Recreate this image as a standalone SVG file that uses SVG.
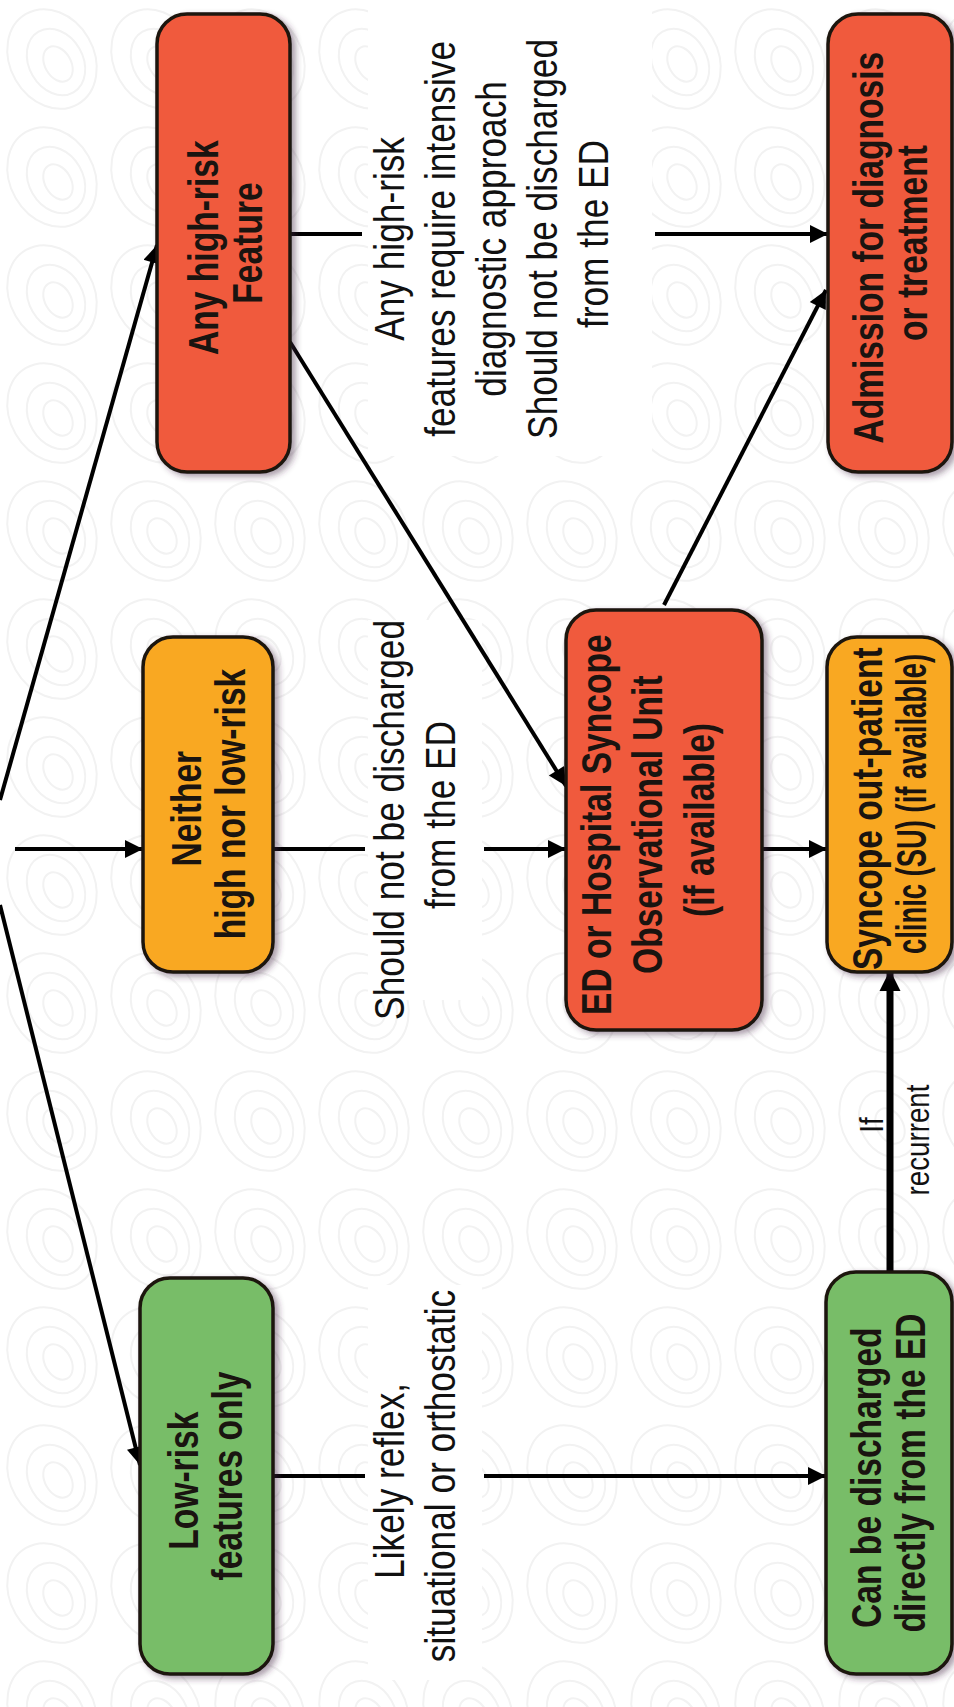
<svg xmlns="http://www.w3.org/2000/svg" width="954" height="1707" viewBox="0 0 954 1707">
<defs>
<pattern id="bg" width="104" height="118" patternUnits="userSpaceOnUse">
<g fill="none" stroke="#f2f2f2" stroke-width="2">
<ellipse cx="52" cy="59" rx="42" ry="52" transform="rotate(-30 52 59)"/>
<ellipse cx="56" cy="62" rx="27" ry="35" transform="rotate(-30 56 62)"/>
<ellipse cx="58" cy="64" rx="13" ry="19" transform="rotate(-30 58 64)"/>
</g>
</pattern>
<filter id="sh" x="-10%" y="-10%" width="130%" height="130%">
<feDropShadow dx="4" dy="3" stdDeviation="3" flood-color="#402040" flood-opacity="0.45"/>
</filter>
<marker id="ah" viewBox="0 0 10 10" refX="10" refY="5" markerWidth="5" markerHeight="4.5" markerUnits="strokeWidth" orient="auto">
<path d="M0,0 L10,5 L0,10 z" fill="#000"/>
</marker>
<marker id="ahT" viewBox="0 0 10 10" refX="10" refY="5" markerWidth="3" markerHeight="5" markerUnits="strokeWidth" orient="auto">
<path d="M0,0 L10,5 L0,10 z" fill="#000"/>
</marker>
</defs>
<style>
.node rect{stroke:#1c1410;stroke-width:3.5;filter:url(#sh)}
.red{fill:#f05a3c}
.orange{fill:#f9a823}
.green{fill:#78bd67}
.nt{font-family:'Liberation Sans',Arial,sans-serif;font-weight:bold;font-size:42px;fill:#1a1410;text-anchor:middle}
.lt{font-family:'Liberation Sans',Arial,sans-serif;font-size:42px;fill:#111;text-anchor:middle}
.st{font-family:'Liberation Sans',Arial,sans-serif;font-size:33px;fill:#111;text-anchor:middle}
.c line{stroke:#000;stroke-width:4;fill:none}
.wb{fill:#fff}
</style>
<rect width="954" height="1707" fill="#fff"/>
<rect width="954" height="1707" fill="url(#bg)"/>
<rect class="wb" x="368" y="4" width="284" height="452"/>
<rect class="wb" x="368" y="620" width="114" height="380"/>
<rect class="wb" x="368" y="1285" width="114" height="395"/>

<g id="connectors" class="c">
<line x1="0" y1="800" x2="157" y2="245" marker-end="url(#ah)"/>
<line x1="15" y1="849" x2="143" y2="849" marker-end="url(#ah)"/>
<line x1="0" y1="905" x2="140" y2="1465" marker-end="url(#ah)"/>
<line x1="290" y1="234" x2="362" y2="234"/>
<line x1="655" y1="234" x2="828" y2="234" marker-end="url(#ah)"/>
<line x1="290" y1="342" x2="566" y2="786" marker-end="url(#ah)"/>
<line x1="273" y1="849" x2="365" y2="849"/>
<line x1="484" y1="849" x2="566" y2="849" marker-end="url(#ah)"/>
<line x1="762" y1="849" x2="827" y2="849" marker-end="url(#ah)"/>
<line x1="664" y1="605" x2="826" y2="290" marker-end="url(#ah)"/>
<line x1="273" y1="1476" x2="365" y2="1476"/>
<line x1="484" y1="1476" x2="826" y2="1476" marker-end="url(#ah)"/>
<line x1="890" y1="1272" x2="890" y2="970" style="stroke-width:7" marker-end="url(#ahT)"/>
</g>

<g id="label-high">
<text class="lt" transform="translate(492,234) rotate(-90) scale(0.84,1)">
<tspan x="0" y="-88">Any high-risk</tspan>
<tspan x="0" y="-37">features require intensive</tspan>
<tspan x="0" y="14">diagnostic approach</tspan>
<tspan x="0" y="65">Should not be discharged</tspan>
<tspan x="0" y="116">from the ED</tspan>
</text>
</g>
<g id="label-neither">
<text class="lt" transform="translate(416,815) rotate(-90) scale(0.84,1)">
<tspan x="0" y="-12">Should not be discharged</tspan>
<tspan x="0" y="39">from the ED</tspan>
</text>
</g>
<g id="label-low">
<text class="lt" transform="translate(416,1476) rotate(-90) scale(0.84,1)">
<tspan x="0" y="-12">Likely reflex,</tspan>
<tspan x="0" y="39">situational or orthostatic</tspan>
</text>
</g>
<g id="label-recurrent">
<text class="st" transform="translate(872,1125) rotate(-90) scale(0.84,1)"><tspan x="0" y="11">If</tspan></text>
<text class="st" transform="translate(918,1140) rotate(-90) scale(0.84,1)"><tspan x="0" y="11">recurrent</tspan></text>
</g>

<g id="node-high" class="node">
<rect class="red" x="157" y="14" width="133" height="458" rx="30"/>
<text class="nt" transform="translate(226,243) rotate(-90) scale(0.8,1)">
<tspan x="0" y="-8">Any high-risk</tspan>
<tspan x="0" y="36">Feature</tspan>
</text>
</g>
<g id="node-admission" class="node">
<rect class="red" x="828" y="14" width="124" height="458" rx="30"/>
<text class="nt" transform="translate(891,243) rotate(-90) scale(0.8,1)">
<tspan x="0" y="-8">Admission for diagnosis</tspan>
<tspan x="0" y="36">or treatment</tspan>
</text>
</g>
<g id="node-neither" class="node">
<rect class="orange" x="143" y="637" width="130" height="335" rx="30"/>
<text class="nt" transform="translate(209,804) rotate(-90) scale(0.8,1)">
<tspan x="0" y="-8">Neither</tspan>
<tspan x="0" y="36">high nor low-risk</tspan>
</text>
</g>
<g id="node-ed" class="node">
<rect class="red" x="566" y="610" width="196" height="420" rx="30"/>
<text class="nt" transform="translate(664,820) rotate(-90) scale(0.8,1)">
<tspan x="0" y="-53">ED or Hospital Syncope</tspan>
<tspan x="0" y="-2">Observational Unit</tspan>
<tspan x="0" y="50">(if available)</tspan>
</text>
</g>
<g id="node-su" class="node">
<rect class="orange" x="827" y="637" width="125" height="335" rx="30"/>
<text class="nt" transform="translate(890,804) rotate(-90) scale(0.8,1)">
<tspan x="0" y="-8">Syncope out-patient</tspan>
<tspan x="0" y="36" textLength="375" lengthAdjust="spacingAndGlyphs">clinic (SU) (if available)</tspan>
</text>
</g>
<g id="node-low" class="node">
<rect class="green" x="140" y="1278" width="133" height="396" rx="30"/>
<text class="nt" transform="translate(206,1476) rotate(-90) scale(0.8,1)">
<tspan x="0" y="-8">Low-risk</tspan>
<tspan x="0" y="36">features only</tspan>
</text>
</g>
<g id="node-discharge" class="node">
<rect class="green" x="826" y="1272" width="126" height="402" rx="30"/>
<text class="nt" transform="translate(889,1473) rotate(-90) scale(0.8,1)">
<tspan x="0" y="-8">Can be discharged</tspan>
<tspan x="0" y="36">directly from the ED</tspan>
</text>
</g>
</svg>
